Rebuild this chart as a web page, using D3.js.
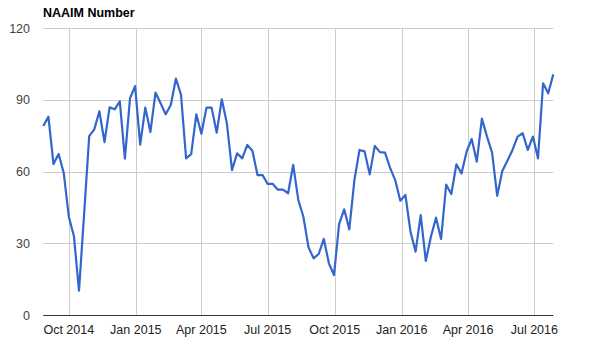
<!DOCTYPE html>
<html><head><meta charset="utf-8">
<script src="https://cdn.jsdelivr.net/npm/d3@7"></script>
<style>body{margin:0;background:#fff;}svg{display:block;font-family:"Liberation Sans",Arial,sans-serif;}</style>
</head><body><svg id="c" width="590" height="356"></svg>
<script>
const title = "NAAIM Number";
const startDate = "2014-08-27"; // weekly readings (Wednesdays)
const values = [79.0,82.9,63.1,67.3,59.5,41.1,33.0,10.2,42.0,74.8,
77.6,85.2,72.3,86.8,86.0,89.3,65.4,90.6,95.7,71.2,
86.7,76.5,93.0,88.5,83.9,87.8,98.8,92.1,65.5,67.3,
83.9,75.8,86.7,86.7,76.2,90.2,80.1,60.6,67.6,65.5,
71.1,68.7,58.5,58.5,54.8,54.8,52.4,52.4,50.9,62.8,
48.1,41.1,28.3,23.7,25.5,31.8,21.6,16.7,38.0,44.2,
35.8,56.4,69.0,68.4,58.8,70.7,68.1,67.9,61.5,56.4,
47.8,50.2,34.8,26.5,41.8,22.6,32.7,40.7,31.8,54.5,
50.6,63.0,59.2,68.3,73.6,64.1,82.1,74.6,67.9,49.8,
60.2,64.5,69.0,74.6,76.0,69.0,74.6,65.5,96.9,92.7,100.6];
const yTicks = [0,30,60,90,120];
const xTickDates = ["2014-10-01","2015-01-01","2015-04-01","2015-07-01","2015-10-01","2016-01-01","2016-04-01","2016-07-01"];

const parse = d3.timeParse("%Y-%m-%d");
const t0 = parse(startDate);
const data = values.map((v,i)=>({date:d3.timeDay.offset(t0, 7*i), value:v}));
const xTicks = xTickDates.map(parse);

const svg = d3.select("#c");
const m = {l:43.3, r:553.3, t:28, b:315};
const x = d3.scaleTime().domain(d3.extent(data,d=>d.date)).range([m.l, m.r]);
const y = d3.scaleLinear().domain([0,120]).range([m.b, m.t]);

// horizontal gridlines
svg.append("g").selectAll("line").data(yTicks.filter(d=>d>0)).join("line")
  .attr("x1", m.l).attr("x2", m.r)
  .attr("y1", d=>Math.round(y(d))+0.5).attr("y2", d=>Math.round(y(d))+0.5)
  .attr("stroke","#cccccc").attr("stroke-width",1);
// vertical gridlines
svg.append("g").selectAll("line").data(xTicks).join("line")
  .attr("x1", d=>Math.round(x(d))+0.5).attr("x2", d=>Math.round(x(d))+0.5)
  .attr("y1", m.t).attr("y2", m.b)
  .attr("stroke","#cccccc").attr("stroke-width",1);

// y labels
svg.append("g").selectAll("text").data(yTicks).join("text")
  .attr("x", 30).attr("y", d=>y(d)+4.5)
  .attr("text-anchor","end").attr("font-size",12.5).attr("fill","#444")
  .text(d=>d);

// x labels
svg.append("g").selectAll("text").data(xTicks).join("text")
  .attr("x", d=>x(d)).attr("y", 334)
  .attr("text-anchor","middle").attr("font-size",12.5).attr("fill","#222")
  .text(d=>d3.timeFormat("%b %Y")(d));

// baseline
svg.append("line").attr("x1",m.l).attr("x2",m.r)
  .attr("y1",y(0)+0.5).attr("y2",y(0)+0.5).attr("stroke","#333").attr("stroke-width",1.2);

// line
svg.append("path").datum(data)
  .attr("fill","none").attr("stroke","#3366cc").attr("stroke-width",2.2)
  .attr("stroke-linejoin","round")
  .attr("d", d3.line().x(d=>x(d.date)).y(d=>y(d.value)));

// title
svg.append("text").attr("x",43).attr("y",17).attr("font-size",12.5)
  .attr("font-weight","bold").attr("fill","#000").text(title);
</script></body></html>
